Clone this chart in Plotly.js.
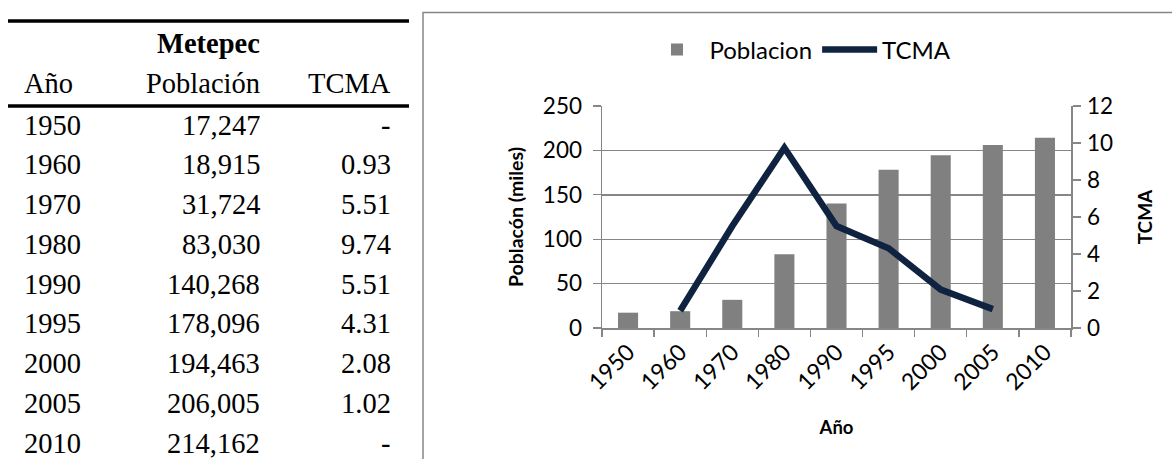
<!DOCTYPE html>
<html>
<head>
<meta charset="utf-8">
<script src="https://cdn.plot.ly/plotly-3.0.1.min.js"></script>
<style>
  html, body { margin: 0; padding: 0; background: #ffffff; }
  #chart { width: 1172px; height: 459px; }
</style>
</head>
<body>
<div id="chart"></div>
<script>
// ---- data ----
const years = ['1950', '1960', '1970', '1980', '1990', '1995', '2000', '2005', '2010'];
const poblacion = [17247, 18915, 31724, 83030, 140268, 178096, 194463, 206005, 214162];
const tcma = [null, 0.93, 5.51, 9.74, 5.51, 4.31, 2.08, 1.02, null];

const tableTitle = 'Metepec';
const tableHeaders = ['Año', 'Población', 'TCMA'];
const barName = 'Poblacion';
const lineName = 'TCMA';
const yTitle = 'Poblacón (miles)';
const y2Title = 'TCMA';
const xTitle = 'Año';

// ---- helpers ----
const W = 1172, H = 459;
const px = x => x / W;
const py = y => 1 - y / H;
const poblacionMiles = poblacion.map(v => v / 1000);

const serif = 'Liberation Serif, Times New Roman, serif';
const sans = 'Lato, Calibri, sans-serif';
const axisGray = '#868686';

// ---- table (drawn as text annotations) ----
const annotations = [];
const colX = [22, 262, 393];
const colAnchor = ['left', 'right', 'right'];
const tfont = { family: serif, size: 28.5, color: '#000' };

annotations.push({ xref: 'paper', yref: 'paper', x: px(colX[1]), y: py(44),
  xanchor: 'right', yanchor: 'middle', showarrow: false,
  text: '<b>' + tableTitle + '</b>', font: tfont });
tableHeaders.forEach((h, i) => {
  annotations.push({ xref: 'paper', yref: 'paper', x: px(colX[i]), y: py(83),
    xanchor: colAnchor[i], yanchor: 'middle', showarrow: false, text: h, font: tfont });
});
years.forEach((yr, r) => {
  const yy = py(125 + r * 39.75);
  const cells = [
    yr,
    poblacion[r].toLocaleString('en-US'),
    tcma[r] === null ? '-' : tcma[r].toFixed(2)
  ];
  cells.forEach((c, i) => {
    annotations.push({ xref: 'paper', yref: 'paper', x: px(colX[i]), y: yy,
      xanchor: colAnchor[i], yanchor: 'middle', showarrow: false, text: c, font: tfont });
  });
});

const shapes = [
  { type: 'line', xref: 'paper', yref: 'paper', x0: px(8), x1: px(409), y0: py(21), y1: py(21),
    line: { color: '#000', width: 3.6 } },
  { type: 'line', xref: 'paper', yref: 'paper', x0: px(8), x1: px(409), y0: py(106), y1: py(106),
    line: { color: '#000', width: 3.6 } },
  { type: 'rect', xref: 'paper', yref: 'paper', x0: px(423), x1: 1.05, y0: -0.05, y1: py(12.5),
    line: { color: axisGray, width: 1.5 }, layer: 'below' }
];

// ---- chart ----
const traces = [
  { type: 'bar', name: barName, x: years, y: poblacionMiles,
    marker: { color: '#808080' }, xaxis: 'x', yaxis: 'y', hoverinfo: 'x+y' },
  { type: 'scatter', mode: 'lines', name: lineName, x: years, y: tcma,
    line: { color: '#0f2340', width: 6.5 }, xaxis: 'x', yaxis: 'y2', connectgaps: false }
];

const layout = {
  width: W, height: H,
  margin: { l: 0, r: 0, t: 0, b: 0 },
  paper_bgcolor: '#fff', plot_bgcolor: 'rgba(0,0,0,0)',
  font: { family: sans, color: '#000' },
  showlegend: true,
  bargap: 0.615,
  legend: { orientation: 'h', x: 0.683, xanchor: 'center', y: py(50), yanchor: 'middle',
    itemwidth: 55, tracegroupgap: 0,
    font: { family: sans, size: 24, color: '#000' }, bgcolor: 'rgba(0,0,0,0)' },
  xaxis: {
    domain: [px(602), px(1071)], anchor: 'y', type: 'category',
    tickson: 'boundaries', ticks: 'outside', ticklen: 7, tickcolor: axisGray, tickwidth: 1.3,
    showline: true, linecolor: axisGray, linewidth: 1.5, showgrid: false,
    tickangle: -45, tickfont: { family: sans, size: 23, color: '#000' },
    title: { text: '<b>' + xTitle + '</b>', font: { family: sans, size: 18.5, color: '#000' }, standoff: 27 }
  },
  yaxis: {
    domain: [py(328), py(106)], anchor: 'x', range: [0, 250], dtick: 50,
    showgrid: true, gridcolor: axisGray, gridwidth: 1.4, zeroline: false,
    showline: true, linecolor: axisGray, linewidth: 1.5,
    ticks: 'outside', ticklen: 8, tickcolor: axisGray, tickwidth: 1.3,
    ticklabelstandoff: 6,
    tickfont: { family: sans, size: 22.5, color: '#000' },
    title: { text: '<b>' + yTitle + '</b>', font: { family: sans, size: 19.5, color: '#000' }, standoff: 14 }
  },
  yaxis2: {
    overlaying: 'y', side: 'right', anchor: 'x', range: [0, 12], dtick: 2,
    showgrid: false, zeroline: false,
    showline: true, linecolor: axisGray, linewidth: 1.5,
    ticks: 'outside', ticklen: 8, tickcolor: axisGray, tickwidth: 1.3,
    ticklabelstandoff: 2,
    tickfont: { family: sans, size: 22.5, color: '#000' },
    title: { text: '<b>' + y2Title + '</b>', font: { family: sans, size: 19, color: '#000' }, standoff: 26 }
  },
  annotations: annotations,
  shapes: shapes
};

Plotly.newPlot('chart', traces, layout, { displayModeBar: false, staticPlot: true });
</script>
</body>
</html>
